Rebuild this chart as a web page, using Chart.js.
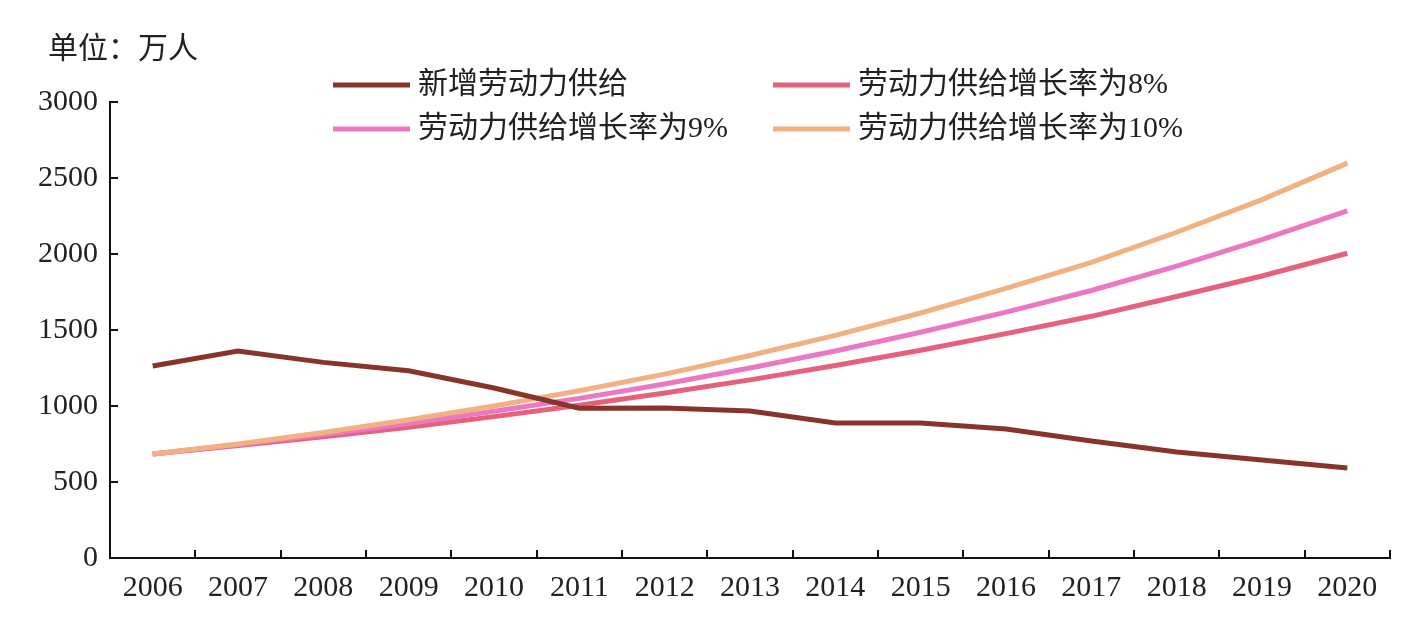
<!DOCTYPE html>
<html><head><meta charset="utf-8">
<script src="https://cdn.jsdelivr.net/npm/chart.js@4"></script>
<style>html,body{margin:0;padding:0;background:#fff}</style>
</head><body>
<canvas id="c" width="1413" height="628"></canvas>
<script>
const years = ['2006','2007','2008','2009','2010','2011','2012','2013','2014','2015','2016','2017','2018','2019','2020'];
const newLabor = [1263,1362,1287,1232,1118,985,987,967,888,888,849,770,697,645,592];
const rate8 = [684,740,798,860,930,1005,1085,1172,1266,1367,1476,1590,1720,1855,2005];
const rate9 = [684,745,812,885,965,1050,1145,1250,1362,1485,1618,1760,1920,2094,2283];
const rate10 = [684,750,826,910,1000,1100,1210,1332,1465,1612,1774,1945,2143,2358,2598];
const seriesNames = ['新增劳动力供给','劳动力供给增长率为8%','劳动力供给增长率为9%','劳动力供给增长率为10%'];
const seriesColors = ['#87352b','#e6617b','#eb79c1','#f2b183'];
const yTicks = [0,500,1000,1500,2000,2500,3000];
const unitLabel = '单位：万人';

const FONT = "'Liberation Serif', 'Noto Sans CJK SC', serif";

const overlay = {
  id: 'overlay',
  afterDraw(chart) {
    const ctx = chart.ctx;
    ctx.save();
    ctx.fillStyle = '#222';
    ctx.font = '30px ' + FONT;
    ctx.textBaseline = 'middle';
    ctx.textAlign = 'left';
    ctx.fillText(unitLabel, 48, 50);
    const lx = [333, 773], tx = [418, 858], ry = [85, 129];
    chart.data.datasets.forEach((ds, i) => {
      const col = i % 2, row = Math.floor(i / 2);
      ctx.strokeStyle = ds.borderColor;
      ctx.lineWidth = 5;
      ctx.beginPath();
      ctx.moveTo(lx[col], ry[row]);
      ctx.lineTo(lx[col] + 77, ry[row]);
      ctx.stroke();
      ctx.fillStyle = '#222';
      ctx.fillText(ds.label, tx[col], ry[row]);
    });
    ctx.restore();
  }
};

const datasets = [newLabor, rate8, rate9, rate10].map((d, i) => ({
  label: seriesNames[i], data: d, borderColor: seriesColors[i], backgroundColor: seriesColors[i],
  borderWidth: 5, pointRadius: 0, tension: 0, fill: false, borderCapStyle: 'butt', borderJoinStyle: 'miter'
}));
datasets[0].order = 0; datasets[1].order = 3; datasets[2].order = 2; datasets[3].order = 1;

new Chart(document.getElementById('c'), {
  type: 'line',
  data: { labels: years, datasets },
  options: {
    responsive: false, animation: false,
    layout: { padding: { top: 102, right: 23, left: 0, bottom: 0 } },
    plugins: { legend: { display: false }, tooltip: { enabled: false } },
    scales: {
      x: {
        offset: true,
        grid: { offset: true, drawOnChartArea: false, drawTicks: true, tickLength: -8, color: '#111', lineWidth: 2 },
        border: { display: true, color: '#111', width: 2 },
        ticks: { color: '#222', font: { family: FONT, size: 30 }, padding: 20, maxRotation: 0, autoSkip: false },
        afterFit(s) { s.height = 70; }
      },
      y: {
        min: 0, max: 3000,
        afterBuildTicks(s) { s.ticks = yTicks.map(v => ({ value: v })); },
        grid: { drawOnChartArea: false, drawTicks: true, tickLength: -8, color: '#111', lineWidth: 2 },
        border: { display: true, color: '#111', width: 2 },
        ticks: { color: '#222', font: { family: FONT, size: 30 }, padding: 20, callback: v => String(v) },
        afterFit(s) { s.width = 110; }
      }
    }
  },
  plugins: [overlay]
});
</script>
</body></html>
